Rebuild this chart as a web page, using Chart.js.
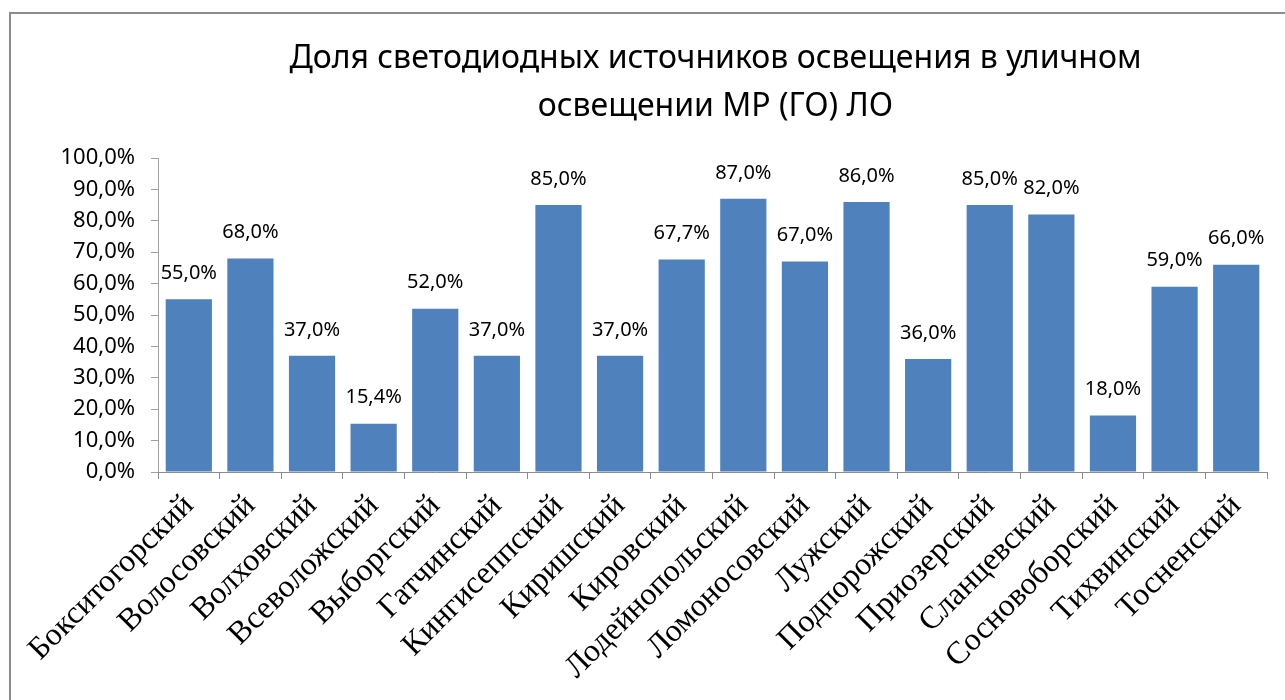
<!DOCTYPE html>
<html>
<head>
<meta charset="utf-8">
<script src="https://cdn.jsdelivr.net/npm/chart.js@4"></script>
<style>
  html, body { margin: 0; padding: 0; background: #fff; }
  #wrap { width: 1285px; height: 700px; position: relative; }
</style>
</head>
<body>
<div id="wrap"><canvas id="ledChart" width="1285" height="700"></canvas></div>
<script>
const districts = [
    'Бокситогорский', 'Волосовский', 'Волховский', 'Всеволожский', 'Выборгский',
    'Гатчинский', 'Кингисеппский', 'Киришский', 'Кировский', 'Лодейнопольский',
    'Ломоносовский', 'Лужский', 'Подпорожский', 'Приозерский', 'Сланцевский',
    'Сосновоборский', 'Тихвинский', 'Тосненский'
];
const ledShare = [55, 68, 37, 15.4, 52, 37, 85, 37, 67.7, 87, 67, 86, 36, 85, 82, 18, 59, 66];
const titleLines = ['Доля светодиодных источников освещения в уличном', 'освещении МР (ГО) ЛО'];

const pct = v => Number(v).toFixed(1).replace('.', ',') + '%';
const sans = '"Noto Sans", "Open Sans", sans-serif';

// frame + title drawn on the canvas
const framePlugin = {
    id: 'frame',
    beforeDraw(chart) {
        const ctx = chart.ctx;
        ctx.save();
        ctx.fillStyle = '#fff';
        ctx.fillRect(0, 0, chart.width, chart.height);
        ctx.strokeStyle = '#8c8c8c';
        ctx.lineWidth = 2;
        ctx.beginPath();
        ctx.moveTo(10, chart.height);
        ctx.lineTo(10, 13);
        ctx.lineTo(chart.width, 13);
        ctx.stroke();

        const cx = (chart.chartArea.left + chart.chartArea.right) / 2;
        ctx.fillStyle = '#000';
        ctx.font = '32px ' + sans;
        ctx.textAlign = 'center';
        ctx.textBaseline = 'alphabetic';
        titleLines.forEach((line, i) => ctx.fillText(line, cx + 3, 68 + i * 48));
        ctx.restore();
    }
};

const valueLabels = {
    id: 'valueLabels',
    afterDatasetsDraw(chart) {
        const ctx = chart.ctx;
        const meta = chart.getDatasetMeta(0);
        ctx.save();
        ctx.fillStyle = '#000';
        ctx.font = '20px ' + sans;
        ctx.textAlign = 'center';
        ctx.textBaseline = 'middle';
        meta.data.forEach((bar, i) => {
            ctx.fillText(pct(ledShare[i]), bar.x, bar.y - 26);
        });
        ctx.restore();
    }
};

new Chart(document.getElementById('ledChart'), {
    type: 'bar',
    data: {
        labels: districts,
        datasets: [{
            data: ledShare,
            backgroundColor: '#4F81BD',
            barPercentage: 0.75,
            categoryPercentage: 1
        }]
    },
    options: {
        responsive: false,
        animation: false,
        layout: {
            padding: { top: 158, right: 18, left: 0, bottom: 0 }
        },
        plugins: {
            legend: { display: false },
            tooltip: { enabled: false }
        },
        scales: {
            y: {
                min: 0,
                max: 100,
                afterFit(scale) { scale.width = 158; },
                ticks: {
                    stepSize: 10,
                    color: '#000',
                    padding: 16,
                    font: { family: sans, size: 22 },
                    callback: v => pct(v)
                },
                grid: {
                    drawOnChartArea: false,
                    color: '#a0a0a0',
                    tickLength: 7
                },
                border: { color: '#a0a0a0', dash: [8, 5] }
            },
            x: {
                afterFit(scale) { scale.height = 228; },
                ticks: {
                    color: '#000',
                    minRotation: 45,
                    maxRotation: 45,
                    autoSkip: false,
                    padding: 8,
                    font: { family: '"Liberation Serif", "Times New Roman", serif', size: 32 }
                },
                grid: {
                    offset: true,
                    drawOnChartArea: false,
                    color: '#8c8c8c',
                    tickLength: 7
                },
                border: { color: '#8c8c8c' }
            }
        }
    },
    plugins: [framePlugin, valueLabels]
});
</script>
</body>
</html>
